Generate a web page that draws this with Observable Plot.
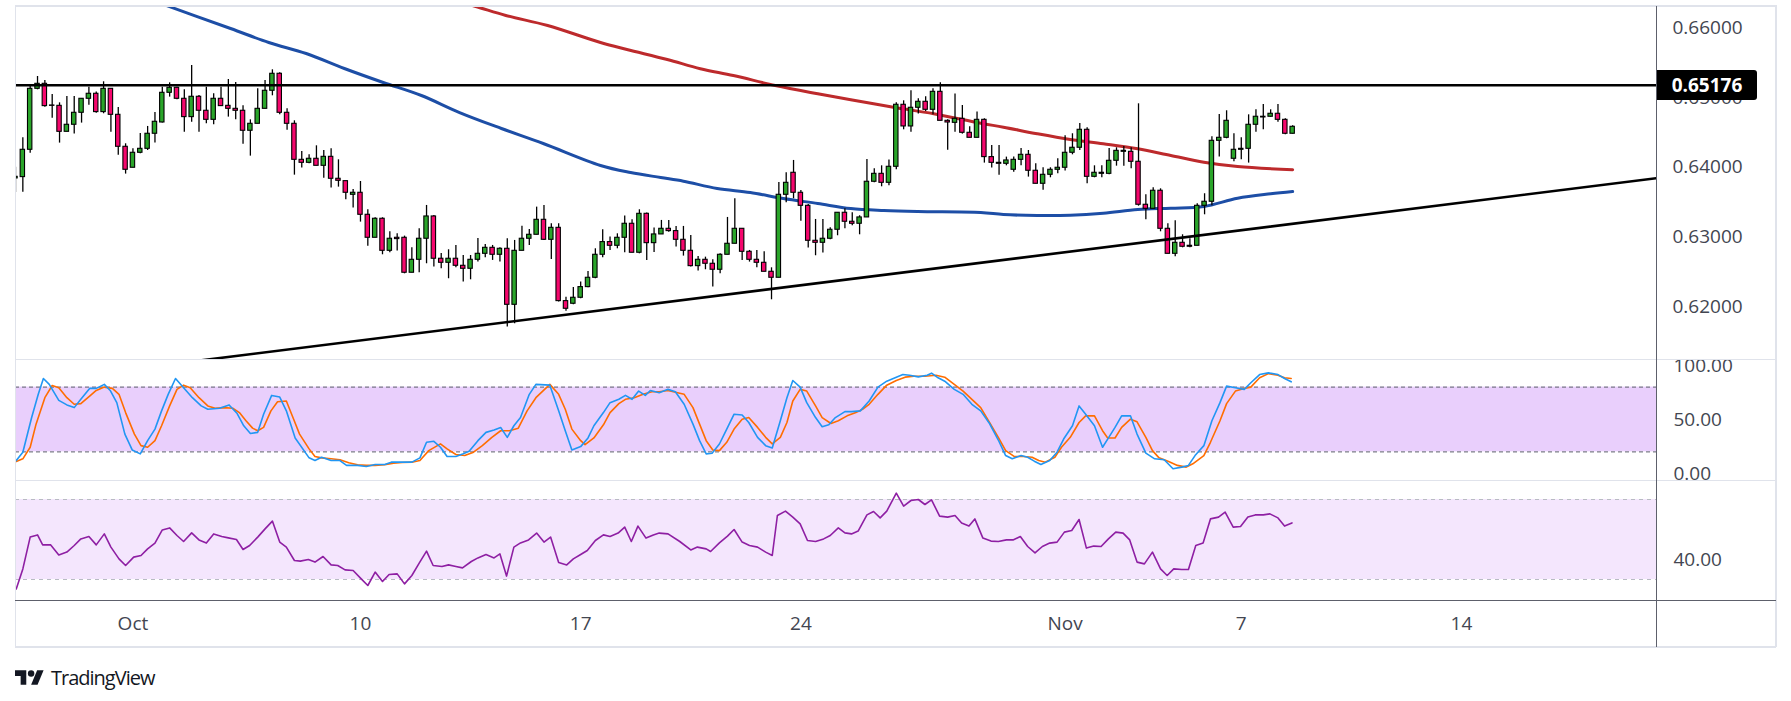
<!DOCTYPE html>
<html><head><meta charset="utf-8">
<script src="https://cdn.jsdelivr.net/npm/d3@7"></script>
<script src="https://cdn.jsdelivr.net/npm/@observablehq/plot@0.6"></script>
<style>
body{margin:0;background:#fff;}
#wrap{position:relative;width:1791px;height:701px;overflow:hidden;background:#fff;font-family:"Open Sans",sans-serif;}
.pane{position:absolute;left:0;}
.ln{position:absolute;}
#pricebox{position:absolute;left:1657px;width:100px;height:30px;background:#000;color:#fff;font:bold 19px "Open Sans",sans-serif;line-height:30px;text-align:center;border-radius:0 3px 3px 0;}
#logo{position:absolute;left:15px;top:664px;display:flex;align-items:center;gap:7px;}
#logo span{font:20px "Open Sans",sans-serif;letter-spacing:-1px;color:#131722;}
</style></head>
<body><div id="wrap"></div>
<script>
// ---------- DATA ----------
const opens = [0.63838,0.63857,0.64249,0.65124,0.65196,0.64885,0.64880,0.64507,0.64608,0.64780,0.64981,0.65053,0.64790,0.65124,0.64751,0.64292,0.63991,0.64206,0.64263,0.64479,0.64641,0.65067,0.65139,0.64981,0.64718,0.65010,0.64809,0.64679,0.64981,0.64880,0.64837,0.64809,0.64522,0.64622,0.64837,0.65096,0.65340,0.64780,0.64622,0.64105,0.64062,0.64120,0.64019,0.64148,0.63833,0.63799,0.63603,0.63632,0.63316,0.62986,0.63259,0.62799,0.62986,0.62986,0.62484,0.62670,0.62972,0.63292,0.62685,0.62627,0.62685,0.62584,0.62541,0.62670,0.62756,0.62842,0.62742,0.62828,0.62024,0.62799,0.62972,0.63029,0.63244,0.62957,0.63129,0.62077,0.62039,0.62125,0.62278,0.62412,0.62742,0.62924,0.62871,0.62986,0.63187,0.62771,0.63330,0.62909,0.63034,0.63115,0.63082,0.62957,0.62799,0.62579,0.62670,0.62613,0.62527,0.62742,0.62900,0.63115,0.62785,0.62670,0.62627,0.62498,0.62412,0.63603,0.63919,0.63632,0.63445,0.62943,0.62914,0.62972,0.63101,0.63345,0.63216,0.63187,0.63278,0.63790,0.63904,0.63775,0.64005,0.64895,0.64584,0.64852,0.64938,0.64823,0.65081,0.64665,0.64636,0.64694,0.64493,0.64421,0.64679,0.64144,0.64062,0.64048,0.63962,0.64105,0.64177,0.63948,0.63761,0.63890,0.63962,0.63991,0.64206,0.64278,0.64536,0.63861,0.63904,0.63904,0.64091,0.64220,0.64220,0.64077,0.63460,0.63402,0.63661,0.63115,0.62756,0.62914,0.62871,0.62871,0.63445,0.63503,0.64378,0.64421,0.64120,0.64249,0.64263,0.64608,0.64713,0.64723,0.64766,0.64679,0.64479];
const highs = [0.64000,0.64421,0.65158,0.65301,0.65244,0.65043,0.64923,0.65014,0.65014,0.64981,0.65148,0.65077,0.65225,0.65124,0.64856,0.64335,0.64263,0.64483,0.64584,0.64785,0.65148,0.65210,0.65148,0.65110,0.65459,0.65029,0.65148,0.65053,0.65148,0.65258,0.65215,0.64880,0.64679,0.65124,0.65244,0.65397,0.65354,0.64837,0.64665,0.64225,0.64177,0.64306,0.64239,0.64263,0.64105,0.63799,0.63680,0.63794,0.63388,0.63273,0.63273,0.63072,0.63043,0.63010,0.62842,0.63115,0.63450,0.63306,0.62761,0.62814,0.62876,0.62732,0.62732,0.62976,0.62890,0.62876,0.62842,0.62972,0.62948,0.63153,0.63106,0.63426,0.63450,0.63187,0.63187,0.62134,0.62273,0.62350,0.62503,0.62828,0.63101,0.62996,0.63043,0.63297,0.63244,0.63388,0.63340,0.63125,0.63235,0.63235,0.63149,0.63149,0.63019,0.62718,0.62708,0.62670,0.62756,0.63278,0.63546,0.63115,0.62804,0.62804,0.62785,0.62555,0.63780,0.63919,0.64096,0.63665,0.63464,0.63249,0.63249,0.63129,0.63345,0.63402,0.63345,0.63302,0.64110,0.63976,0.64019,0.64101,0.64923,0.64952,0.65096,0.64981,0.65010,0.65124,0.65210,0.64679,0.65048,0.64885,0.64579,0.64790,0.64694,0.64311,0.64311,0.64144,0.64144,0.64268,0.64239,0.64048,0.63991,0.63991,0.64120,0.64450,0.64479,0.64627,0.64565,0.64019,0.64019,0.64268,0.64278,0.64297,0.64278,0.64909,0.63603,0.63703,0.63689,0.63187,0.63230,0.63029,0.62972,0.63474,0.63618,0.64435,0.64756,0.64809,0.64479,0.64421,0.64751,0.64823,0.64900,0.64823,0.64900,0.64694,0.64593];
const lows = [0.63636,0.63641,0.64201,0.65110,0.64861,0.64703,0.64345,0.64507,0.64474,0.64632,0.64890,0.64775,0.64766,0.64502,0.64172,0.63900,0.63991,0.64191,0.64239,0.64345,0.64632,0.65005,0.64967,0.64502,0.64646,0.64502,0.64622,0.64608,0.64876,0.64718,0.64679,0.64330,0.64158,0.64622,0.64837,0.65024,0.64751,0.64531,0.63885,0.63986,0.64048,0.64019,0.63842,0.63699,0.63713,0.63531,0.63412,0.63211,0.62866,0.62986,0.62742,0.62771,0.62795,0.62469,0.62484,0.62484,0.62613,0.62565,0.62541,0.62398,0.62555,0.62350,0.62383,0.62637,0.62699,0.62661,0.62637,0.61704,0.61752,0.62799,0.62876,0.63029,0.62948,0.62675,0.62063,0.61933,0.62024,0.62110,0.62268,0.62398,0.62699,0.62804,0.62828,0.62771,0.62771,0.62756,0.62661,0.62775,0.63034,0.63067,0.62852,0.62723,0.62565,0.62508,0.62527,0.62278,0.62469,0.62742,0.62900,0.62661,0.62637,0.62555,0.62498,0.62096,0.62412,0.63488,0.63546,0.63225,0.62838,0.62728,0.62766,0.62957,0.63015,0.63115,0.63158,0.63029,0.63278,0.63775,0.63718,0.63732,0.63962,0.64536,0.64502,0.64761,0.64799,0.64751,0.64665,0.64244,0.64502,0.64474,0.64421,0.64421,0.64058,0.63986,0.63885,0.64019,0.63928,0.64019,0.63857,0.63761,0.63670,0.63847,0.63904,0.63943,0.64177,0.64239,0.63761,0.63847,0.63847,0.63890,0.64014,0.64014,0.63976,0.63440,0.63244,0.63402,0.63072,0.62756,0.62713,0.62842,0.62842,0.62871,0.63316,0.63445,0.64144,0.64407,0.64077,0.64105,0.64058,0.64502,0.64536,0.64718,0.64646,0.64464,0.64474];
const closes = [0.63861,0.64249,0.65124,0.65196,0.64876,0.64880,0.64507,0.64608,0.64780,0.64981,0.65053,0.64790,0.65124,0.64751,0.64292,0.63962,0.64206,0.64263,0.64479,0.64651,0.65067,0.65139,0.64981,0.64718,0.65010,0.64809,0.64679,0.64981,0.64876,0.64837,0.64809,0.64522,0.64622,0.64837,0.65096,0.65340,0.64780,0.64622,0.64105,0.64062,0.64120,0.64019,0.64148,0.63833,0.63804,0.63632,0.63632,0.63316,0.62986,0.63259,0.62799,0.62972,0.62967,0.62484,0.62670,0.62972,0.63292,0.62685,0.62627,0.62685,0.62584,0.62541,0.62670,0.62756,0.62842,0.62742,0.62828,0.62024,0.62799,0.62972,0.63029,0.63244,0.62957,0.63129,0.62077,0.61967,0.62125,0.62278,0.62412,0.62742,0.62924,0.62871,0.62986,0.63187,0.62771,0.63330,0.62909,0.63034,0.63115,0.63082,0.62957,0.62799,0.62579,0.62670,0.62613,0.62527,0.62742,0.62900,0.63115,0.62785,0.62670,0.62627,0.62498,0.62412,0.63603,0.63775,0.63632,0.63445,0.62943,0.62914,0.62972,0.63101,0.63345,0.63216,0.63187,0.63278,0.63790,0.63904,0.63775,0.64005,0.64895,0.64584,0.64852,0.64938,0.64823,0.65081,0.64665,0.64641,0.64694,0.64493,0.64421,0.64679,0.64144,0.64062,0.64048,0.64096,0.64105,0.64177,0.63948,0.63761,0.63890,0.63962,0.63991,0.64206,0.64278,0.64536,0.63861,0.63919,0.63919,0.64091,0.64234,0.64234,0.64077,0.63460,0.63402,0.63661,0.63115,0.62756,0.62914,0.62857,0.62857,0.63445,0.63503,0.64378,0.64421,0.64665,0.64249,0.64263,0.64608,0.64723,0.64723,0.64766,0.64679,0.64479,0.64579];

// moving averages: [bar index, price]
const maBlue = [[14,0.6657],[20.8,0.66310],[29.3,0.65990],[34.5,0.65789],[39.6,0.65631],[44.8,0.65416],[50.1,0.65215],[55.3,0.65028],[60.5,0.64784],[66.2,0.64555],[71.9,0.64339],[79.7,0.64024],[83.8,0.63923],[87.9,0.63851],[91.0,0.63798],[95.6,0.63693],[100.1,0.63636],[104.6,0.63550],[109.3,0.63478],[113.8,0.63406],[118.3,0.63378],[122.9,0.63363],[131.5,0.63349],[134.6,0.63320],[139.2,0.63306],[143.7,0.63310],[148.2,0.63339],[152.9,0.63392],[157.4,0.63411],[161.9,0.63435],[166.5,0.63554],[171.0,0.63617],[174,0.63650]];
const maRed = [[55,0.6654],[62.6,0.66310],[66.8,0.66177],[72.5,0.66033],[79.7,0.65789],[83.3,0.65689],[88.8,0.65545],[93.3,0.65412],[97.8,0.65315],[103.5,0.65172],[109.3,0.65053],[113.8,0.64967],[119.6,0.64860],[125.1,0.64766],[131.5,0.64631],[134.6,0.64573],[139.2,0.64479],[143.7,0.64397],[148.2,0.64335],[152.9,0.64263],[157.4,0.64167],[161.9,0.64071],[166.5,0.64009],[174,0.63962]];
const resistance = 0.65176;
const trendline = [[20,0.61157],[223.57,0.63841]];

const stochK = [[0.1,12.0],[1.0,19.7],[2.2,51.8],[3.1,73.3],[3.8,88.0],[4.6,82.5],[5.9,67.7],[7.0,63.5],[8.0,61.0],[8.9,68.7],[10.1,78.8],[11.0,78.8],[12.1,82.5],[12.9,76.9],[13.8,65.6],[14.9,36.5],[15.9,21.8],[17.0,18.2],[18.0,30.4],[19.0,41.1],[19.9,58.0],[20.8,73.3],[21.8,88.0],[22.9,79.4],[24.1,70.2],[25.3,62.6],[26.2,59.5],[27.8,60.4],[29.1,63.5],[30.2,55.5],[31.1,44.2],[32.0,37.1],[33.0,38.1],[33.8,54.9],[34.9,72.3],[36.0,70.8],[36.9,58.0],[38.1,32.9],[40.0,14.5],[40.8,12.0],[41.7,15.1],[43.0,12.0],[44.2,12.0],[45.1,7.5],[46.6,7.5],[47.8,6.5],[49.0,8.4],[50.3,8.4],[51.2,10.5],[52.7,10.5],[54.0,10.5],[55.1,14.5],[56.0,28.9],[57.0,29.8],[57.9,24.3],[58.8,15.7],[60.0,15.7],[61.0,18.2],[61.8,20.6],[63.0,30.4],[64.1,38.1],[65.2,40.2],[66.1,42.6],[67.0,33.5],[67.9,44.2],[68.8,51.8],[70.0,73.3],[70.9,82.5],[72.8,81.8],[74.0,58.0],[74.9,39.6],[75.8,21.8],[77.0,24.9],[78.0,32.9],[78.8,44.2],[80.1,56.4],[81.0,65.6],[82.2,68.7],[83.1,72.3],[84.0,68.7],[84.9,76.3],[85.8,72.3],[86.5,76.9],[87.7,74.8],[88.9,77.9],[89.9,75.7],[91.1,64.1],[92.3,45.7],[93.2,30.4],[94.1,18.2],[94.9,18.8],[95.9,27.3],[96.9,41.1],[97.9,54.9],[99.0,54.2],[99.9,47.2],[101.1,33.5],[102.2,25.8],[103.1,23.6],[104.2,48.8],[105.1,70.2],[105.9,86.1],[106.9,80.0],[107.8,65.6],[109.0,51.8],[109.9,43.3],[110.8,45.1],[111.7,51.8],[113.0,57.3],[113.9,57.3],[115.1,58.0],[116.3,67.1],[117.5,80.0],[118.7,85.5],[120.0,89.2],[120.9,91.6],[121.8,91.0],[123.0,89.5],[124.2,91.0],[124.8,92.9],[125.7,88.6],[126.6,85.5],[127.9,77.9],[129.1,73.3],[130.3,64.1],[131.5,58.0],[132.7,46.3],[133.9,31.0],[134.9,16.6],[135.8,13.6],[137.0,16.6],[137.9,15.1],[138.8,11.4],[139.7,8.4],[140.9,12.0],[141.9,19.7],[142.8,31.9],[144.0,44.2],[144.9,62.6],[145.8,54.9],[147.0,44.2],[148.1,24.3],[148.8,31.9],[149.8,42.7],[150.7,53.4],[151.9,53.4],[152.8,36.5],[154.0,18.8],[155.2,13.6],[156.5,12.7],[157.7,4.4],[158.9,5.9],[159.8,7.5],[160.7,16.6],[161.9,25.8],[163.0,48.8],[164.1,65.6],[165.0,80.9],[166.2,79.4],[167.4,77.9],[168.3,84.0],[169.5,91.6],[170.7,93.2],[172.0,91.6],[172.9,88.0],[173.8,84.9]];
const stochD = [[0.1,11.1],[1.0,13.6],[2.0,24.3],[2.8,45.7],[4.0,70.2],[5.0,81.5],[5.9,79.4],[7.0,70.2],[8.0,64.1],[8.9,64.7],[10.1,71.7],[11.0,76.9],[12.1,80.0],[13.2,78.8],[14.1,73.3],[15.0,56.4],[16.2,36.5],[17.1,25.8],[18.0,24.3],[19.0,30.4],[19.9,44.2],[21.0,62.6],[22.0,77.9],[22.9,81.8],[23.8,79.4],[25.0,70.2],[26.2,62.6],[27.2,60.4],[28.4,61.0],[29.6,60.4],[30.5,56.4],[31.4,48.8],[32.3,42.0],[33.0,39.6],[33.8,42.7],[34.8,58.0],[35.7,66.5],[36.9,67.1],[37.8,51.8],[38.7,36.5],[40.0,22.8],[40.8,15.7],[41.7,14.5],[43.0,13.6],[44.2,12.7],[45.4,9.9],[46.6,8.1],[47.8,7.5],[49.0,7.5],[50.3,8.1],[51.5,9.6],[52.7,10.2],[54.0,10.5],[55.1,12.0],[56.3,21.2],[57.9,27.4],[58.8,22.8],[60.0,17.6],[61.2,16.6],[62.4,19.7],[63.6,25.8],[64.9,33.5],[66.1,39.6],[67.3,39.6],[68.5,42.0],[69.7,58.0],[70.9,70.2],[72.8,82.5],[74.0,73.3],[74.9,59.5],[75.8,41.1],[77.0,30.4],[77.6,26.7],[78.8,32.9],[80.1,45.1],[81.0,56.4],[82.2,64.7],[83.1,68.7],[84.3,70.2],[85.5,73.3],[86.7,75.7],[87.7,75.7],[88.9,76.9],[90.2,74.8],[91.1,73.3],[92.3,61.0],[93.2,45.7],[94.1,30.4],[95.0,21.8],[95.9,21.2],[96.9,28.9],[97.9,41.1],[99.0,50.3],[99.9,51.8],[101.1,42.7],[102.2,33.5],[103.1,27.4],[104.2,33.5],[105.1,47.2],[105.9,67.1],[106.9,77.9],[107.8,76.3],[109.0,62.6],[109.9,51.8],[111.1,46.3],[112.1,48.8],[113.3,53.4],[114.5,56.4],[115.4,59.5],[116.3,64.1],[117.5,73.3],[118.7,81.8],[120.0,86.1],[121.2,89.2],[122.4,90.1],[123.9,90.1],[125.4,91.0],[126.6,89.2],[127.9,82.5],[129.1,76.3],[130.3,68.7],[131.5,61.0],[132.7,47.2],[133.9,33.5],[134.9,21.2],[136.1,15.7],[137.3,15.7],[138.5,15.1],[139.4,12.0],[140.3,10.5],[141.6,15.1],[142.5,24.3],[143.7,33.5],[144.9,47.2],[145.8,53.4],[147.0,53.4],[148.1,39.6],[148.8,32.9],[149.8,32.9],[150.7,42.7],[151.9,50.3],[152.8,47.9],[154.0,33.5],[154.9,21.2],[155.8,14.5],[157.1,11.1],[158.3,7.5],[159.5,5.9],[160.4,9.0],[161.9,16.6],[162.8,28.9],[164.1,48.8],[165.0,64.7],[166.2,76.3],[167.4,78.8],[168.3,80.0],[169.5,88.6],[170.7,92.5],[172.0,91.0],[172.9,88.6],[173.8,88.0]];
const rsi = [[0.1,25.3],[1.0,35.3],[2.0,51.2],[3.0,52.3],[3.7,47.3],[4.8,47.3],[5.9,42.3],[7.0,43.7],[8.0,47.0],[8.9,50.3],[10.0,51.5],[11.0,47.3],[12.1,52.8],[13.0,46.2],[14.1,40.3],[15.0,37.0],[16.1,41.2],[17.1,42.0],[18.0,45.3],[19.0,48.2],[20.0,54.8],[21.0,55.8],[22.0,52.0],[22.9,49.0],[24.0,53.3],[25.0,49.8],[26.0,48.2],[27.0,52.8],[28.1,51.5],[29.0,50.8],[30.1,50.0],[31.0,45.0],[31.9,47.0],[33.0,51.2],[34.0,55.3],[35.0,59.2],[36.0,48.7],[36.9,46.2],[38.0,39.5],[38.8,39.2],[39.9,40.0],[40.8,38.7],[41.9,41.5],[43.0,37.3],[43.9,37.0],[44.9,34.8],[46.0,34.5],[47.1,30.3],[48.0,27.0],[49.0,33.7],[50.0,29.0],[50.9,32.5],[52.0,32.8],[53.0,27.8],[54.0,32.0],[55.0,38.2],[56.0,44.2],[56.9,37.0],[58.1,36.5],[59.0,37.3],[60.0,36.5],[60.9,35.8],[62.1,39.0],[63.0,40.8],[64.1,42.5],[65.2,40.8],[66.0,42.8],[66.9,31.7],[67.9,46.2],[68.8,48.3],[69.9,49.8],[71.0,53.2],[72.0,48.7],[72.9,51.2],[74.0,38.5],[75.1,37.3],[76.0,40.3],[77.0,42.5],[77.9,44.5],[79.0,49.5],[80.1,52.3],[81.0,51.5],[82.1,53.2],[83.0,56.2],[83.9,49.0],[84.8,56.7],[85.9,50.7],[86.9,52.3],[87.7,53.2],[88.9,52.8],[90.5,49.0],[92.0,44.8],[92.9,46.2],[94.1,45.3],[94.7,44.0],[95.9,48.3],[97.0,51.7],[97.9,55.0],[99.0,48.7],[100.0,47.0],[101.1,46.2],[102.2,43.7],[103.1,42.0],[103.8,62.0],[104.9,64.2],[105.9,61.2],[106.9,57.8],[107.9,49.5],[109.0,49.0],[110.1,50.3],[111.0,52.0],[112.1,55.8],[113.0,53.3],[113.9,52.8],[114.8,54.2],[116.0,62.3],[116.9,64.0],[117.8,60.8],[118.7,64.2],[120.0,73.2],[121.0,66.7],[122.0,69.5],[123.0,70.0],[123.9,67.5],[124.8,69.8],[125.9,61.7],[127.0,61.2],[128.0,62.0],[128.9,58.2],[129.9,56.7],[130.7,60.3],[131.8,50.7],[132.9,49.2],[133.9,49.0],[135.0,49.8],[135.9,49.8],[136.9,51.5],[137.9,46.5],[138.9,43.3],[139.9,46.5],[140.9,48.2],[141.9,48.7],[142.9,53.7],[143.9,54.5],[144.9,60.0],[145.9,45.7],[146.9,46.7],[147.9,46.5],[148.9,50.3],[149.9,53.7],[150.9,53.2],[151.8,49.8],[152.8,38.7],[153.8,37.8],[154.9,43.7],[156.0,35.3],[156.9,32.0],[157.8,35.3],[158.9,35.0],[159.8,35.0],[160.8,47.0],[161.8,48.2],[162.8,60.3],[163.9,61.2],[164.8,63.7],[165.9,56.2],[166.9,56.5],[167.9,61.2],[168.9,62.3],[170.0,62.3],[170.9,62.8],[172.0,60.8],[172.9,56.7],[173.9,58.3]];

const priceTicks = [0.62, 0.63, 0.64, 0.65, 0.66];
const stochTicks = [0, 50, 100];
const stochLevels = [20, 80];
const rsiTicks = [40];
const rsiLevels = [30, 70];
const xTickIdx = [16, 47, 77, 107, 143, 167, 197];
const xTickLabels = ["Oct", "10", "17", "24", "Nov", "7", "14"];

// ---------- LAYOUT ----------
const W = 1791, ML = 15, MR = 135;
const xDomain = [0, 223.57];
const GREEN = "#2aa52a", PINK = "#f5076d";
const FONT = '"Open Sans", sans-serif';
const baseStyle = {background: "transparent", fontSize: "19px", fontFamily: FONT, color: "#434651", overflow: "hidden"};

const wrap = document.getElementById("wrap");
function place(el, top) { el.classList.add("pane"); el.style.top = top + "px"; wrap.appendChild(el); return el; }
function line(l, t, w, h, c) { const d = document.createElement("div"); d.className = "ln"; Object.assign(d.style, {left: l + "px", top: t + "px", width: w + "px", height: h + "px", background: c}); wrap.appendChild(d); }

const bars = opens.map((o, i) => ({i, o, h: highs[i], l: lows[i], c: closes[i]}));
const pts = arr => arr.map(([i, v]) => ({i, v}));

// main price pane
const main = Plot.plot({
  width: W, height: 353, marginLeft: ML, marginRight: MR, marginTop: 0, marginBottom: 0,
  style: baseStyle,
  x: {domain: xDomain, axis: null},
  y: {domain: [0.612389, 0.663057], axis: "right", ticks: priceTicks, tickFormat: d3.format(".5f"), tickSize: 0, tickPadding: 16, label: null},
  marks: [
    Plot.line(pts(maRed), {x: "i", y: "v", stroke: "#bd2a2c", strokeWidth: 3, curve: "catmull-rom", clip: true}),
    Plot.line(pts(maBlue), {x: "i", y: "v", stroke: "#1d4ea6", strokeWidth: 3, curve: "catmull-rom", clip: true}),
    Plot.ruleX(bars, {x: "i", y1: "l", y2: "h", stroke: "#000", strokeWidth: 1.3, clip: true}),
    Plot.rect(bars, {x1: d => d.i - 0.3, x2: d => d.i + 0.3, y1: d => Math.min(d.o, d.c), y2: d => Math.max(d.o, d.c),
      fill: d => d.c >= d.o ? GREEN : PINK, stroke: "#000", strokeWidth: 1.1, clip: true}),
    Plot.ruleY([resistance], {stroke: "#000", strokeWidth: 2.6}),
    Plot.line(pts(trendline), {x: "i", y: "v", stroke: "#000", strokeWidth: 2.6, clip: true})
  ]
});
place(main, 6);

// stochastic pane
const stoch = Plot.plot({
  width: W, height: 121, marginLeft: ML, marginRight: MR, marginTop: 0, marginBottom: 0,
  style: baseStyle,
  x: {domain: xDomain, axis: null},
  y: {domain: [-6.48, 105.56], axis: "right", ticks: stochTicks, tickFormat: d3.format(".2f"), tickSize: 0, tickPadding: 17, label: null},
  marks: [
    Plot.rect([stochLevels], {y1: d => d[0], y2: d => d[1], fill: "#e9cffc"}),
    Plot.ruleY(stochLevels, {stroke: "#5d606b", strokeDasharray: "4,3", strokeWidth: 1}),
    Plot.line(pts(stochD), {x: "i", y: "v", stroke: "#ff6d00", strokeWidth: 1.6, clip: true}),
    Plot.line(pts(stochK), {x: "i", y: "v", stroke: "#2196f3", strokeWidth: 1.6, clip: true})
  ]
});
place(stoch, 359);

// RSI pane with time axis
const rsiPlot = Plot.plot({
  width: W, height: 167, marginLeft: ML, marginRight: MR, marginTop: 0, marginBottom: 47,
  style: baseStyle,
  x: {domain: xDomain, axis: "bottom", ticks: xTickIdx, tickFormat: d => xTickLabels[xTickIdx.indexOf(d)], tickSize: 0, tickPadding: 16, label: null},
  y: {domain: [19.5, 79.5], axis: "right", ticks: rsiTicks, tickFormat: d3.format(".2f"), tickSize: 0, tickPadding: 17, label: null},
  marks: [
    Plot.rect([rsiLevels], {y1: d => d[0], y2: d => d[1], fill: "#f4e6fd"}),
    Plot.ruleY(rsiLevels, {stroke: "#b8bbc3", strokeDasharray: "4,4", strokeWidth: 1}),
    Plot.line(pts(rsi), {x: "i", y: "v", stroke: "#8e1fa3", strokeWidth: 1.6, clip: true})
  ]
});
place(rsiPlot, 480);

// chart chrome
const LIGHT = "#e0e3eb", DARK = "#5d606b";
line(15, 5, 1761, 1.5, LIGHT);
line(15, 646, 1761, 1.5, LIGHT);
line(14.5, 5, 1.5, 642, LIGHT);
line(1775, 5, 1.5, 642, LIGHT);
line(15, 358.5, 1761, 1.5, LIGHT);
line(15, 479.5, 1761, 1.5, LIGHT);
line(15, 600, 1761, 1, DARK);
line(1656, 6, 1, 641, DARK);

// price label of the horizontal level, positioned with the plot's y scale
const yLevel = 6 + main.scale("y").apply(resistance);
const box = document.createElement("div");
box.id = "pricebox"; box.textContent = d3.format(".5f")(resistance);
box.style.top = (yLevel - 15) + "px";
wrap.appendChild(box);

// TradingView logo
const logo = document.createElement("div");
logo.id = "logo";
logo.innerHTML = '<svg width="29" height="15" viewBox="0 4 36 18"><path d="M14 22H7V11H0V4h14v18z" fill="#131722"/><circle cx="20" cy="8" r="4" fill="#131722"/><path d="M28 22h-8l7.5-18h8z" fill="#131722"/></svg><span>TradingView</span>';
wrap.appendChild(logo);
</script>
</body></html>
